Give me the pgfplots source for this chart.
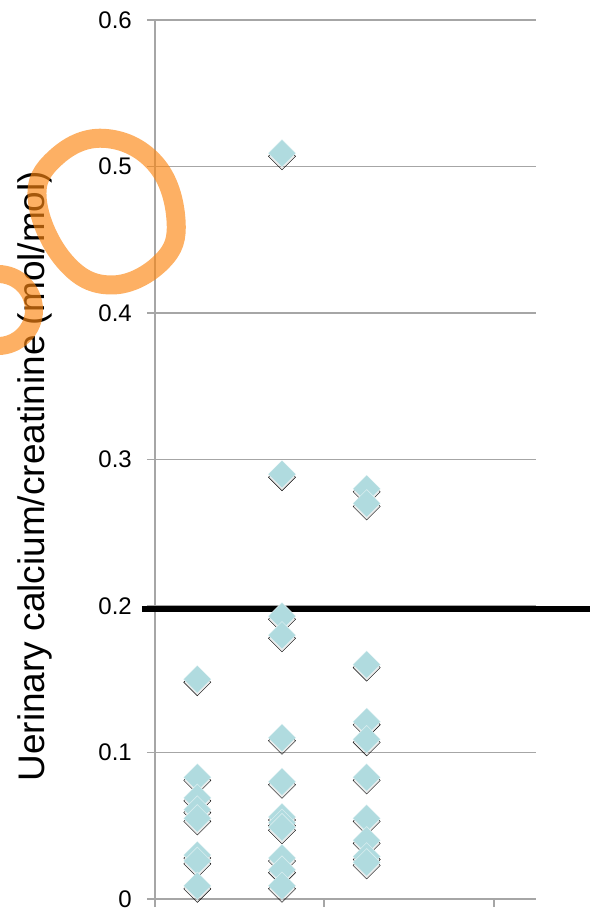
\documentclass[border=0pt]{standalone}
\usepackage{pgfplots}
\usepackage{pgfplotstable}
\pgfplotsset{compat=1.18}
\usepackage{fontspec}
\setmainfont{Liberation Sans}

\definecolor{gridgray}{RGB}{166,166,166}
\definecolor{markfill}{RGB}{176,219,223}
\definecolor{penorange}{RGB}{252,134,17}

% group 1
\pgfplotstableread{
x y
0.5 0.150
0.5 0.083
0.5 0.069
0.5 0.061
0.5 0.055
0.5 0.030
0.5 0.026
0.5 0.009
}\groupA
% group 2
\pgfplotstableread{
x y
1.5 0.509
1.5 0.290
1.5 0.193
1.5 0.180
1.5 0.110
1.5 0.080
1.5 0.056
1.5 0.052
1.5 0.049
1.5 0.028
1.5 0.020
1.5 0.009
}\groupB
% group 3
\pgfplotstableread{
x y
2.5 0.280
2.5 0.270
2.5 0.160
2.5 0.121
2.5 0.109
2.5 0.083
2.5 0.055
2.5 0.040
2.5 0.029
2.5 0.025
}\groupC

\pgfplotsset{
  shade/.style={only marks, mark=square*, mark size=9.6pt, forget plot,
    mark options={yshift=-3pt, rotate=45, draw=none, fill=black, fill opacity=0.09}},
  gem/.style={only marks, mark=square*, mark size=9.8pt,
    mark options={rotate=45, fill=markfill, draw=white, draw opacity=0.5, line width=0.6pt}},
}

\begin{document}
\begin{tikzpicture}[x=1pt,y=1pt]
\begin{axis}[
  at={(155pt,23pt)}, anchor=south west,
  scale only axis, width=381pt, height=879pt,
  xmin=0, xmax=4.5, ymin=0, ymax=0.6,
  xtick={0,2,4}, xticklabels={},
  ytick={0,0.1,0.2,0.3,0.4,0.5,0.6},
  axis x line*=bottom, axis y line*=left,
  axis line style={gridgray, line width=1.8pt, -},
  tick style={gridgray, line width=1.8pt},
  major tick length=8pt, tick align=outside,
  ymajorgrids, grid style={gridgray, line width=1.8pt},
  /pgf/number format/assume math mode=true,
  /pgf/number format/fixed,
  yticklabel style={font=\fontsize{24}{28}\selectfont, inner sep=0pt, xshift=-15pt},
  ylabel={Uerinary calcium/creatinine (mol/mol)},
  ylabel style={font=\fontsize{37}{44}\selectfont,
    at={(axis description cs:-0.316,0.481)}, anchor=center, inner sep=0pt},
  clip=false,
]
% soft shadows under the markers
\addplot[shade] table {\groupA};
\addplot[shade] table {\groupB};
\addplot[shade] table {\groupC};
% reference level
\addplot[black, line width=5.5pt, forget plot] coordinates {(-0.154,0.198) (5.14,0.198)};
% markers
\addplot[gem] table {\groupA};
\addplot[gem] table {\groupB};
\addplot[gem] table {\groupC};
\end{axis}
% hand-drawn orange strokes
\draw[penorange, draw opacity=0.65, line width=19pt]
  plot[smooth cycle, tension=0.7] coordinates {
    (103.3,783.7) (155,758.7) (176,702) (161.7,660.3)
    (111.7,637) (65,660.3) (37.3,722) (55,763.7)};
\draw[penorange, draw opacity=0.65, line width=18pt] (-2,612) circle [radius=36];
\pgfresetboundingbox
\useasboundingbox (0,0) rectangle (590,922);
\end{tikzpicture}
\end{document}
